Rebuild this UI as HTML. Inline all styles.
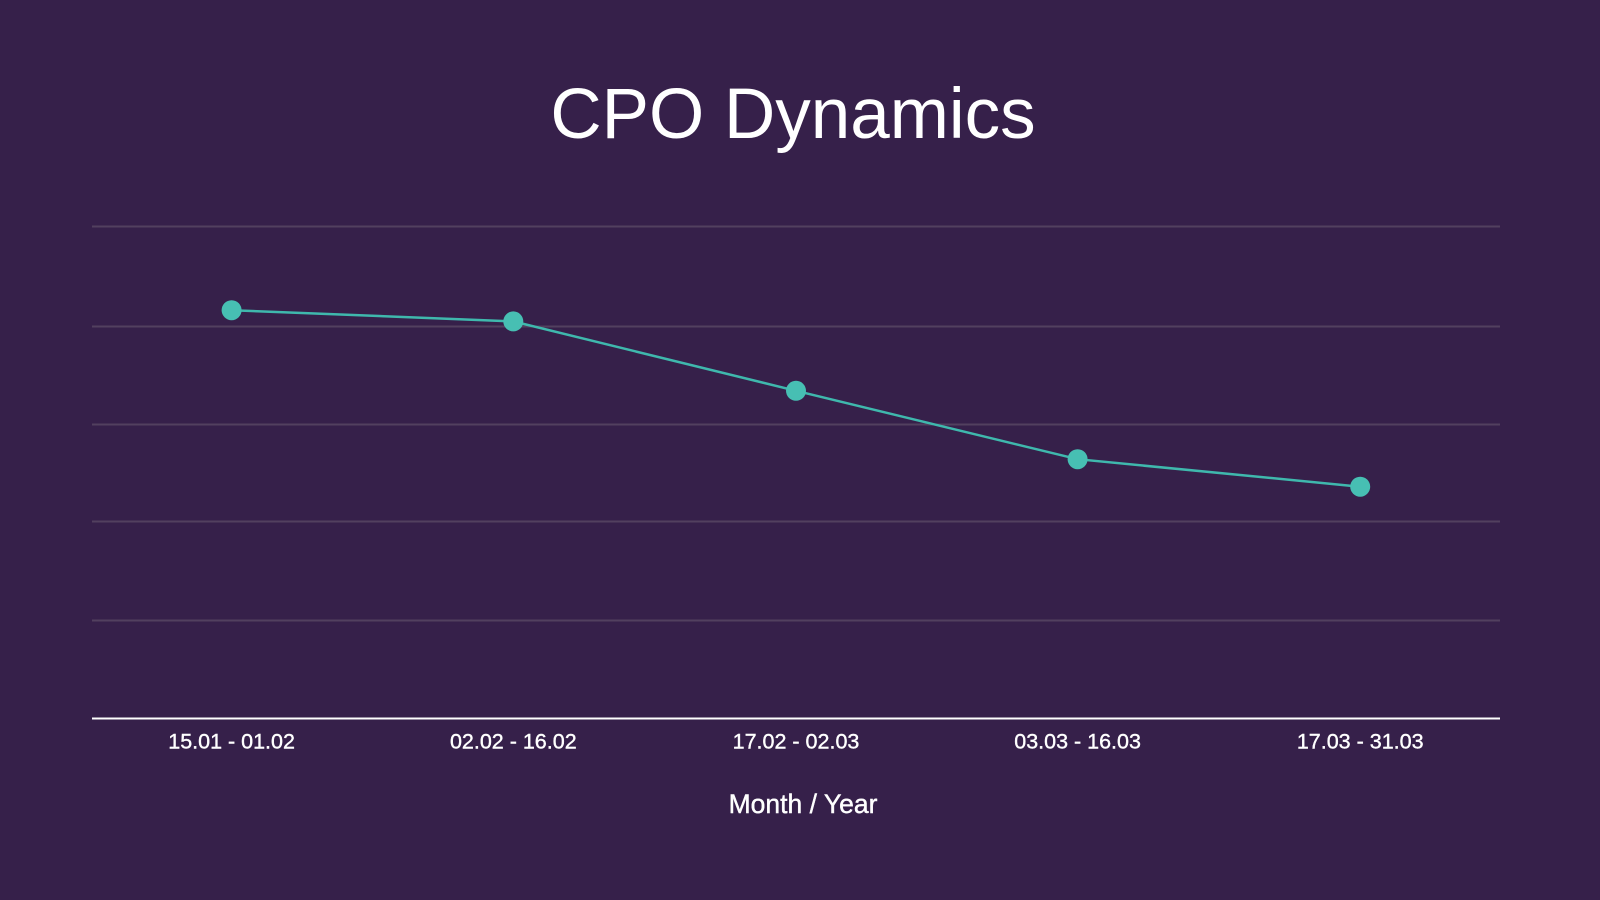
<!DOCTYPE html>
<html><head><meta charset="utf-8"><style>
html,body{margin:0;padding:0;background:#36204a;}
svg{display:block}
</style></head><body>
<svg width="1600" height="900" viewBox="0 0 1600 900" xmlns="http://www.w3.org/2000/svg">
<rect width="1600" height="900" fill="#36204a"/>
<text x="793" y="138" text-anchor="middle" font-family="Liberation Sans, sans-serif" font-size="71" fill="#ffffff">CPO Dynamics</text>
<g stroke="#52405f" stroke-width="2">
<line x1="92" y1="226.5" x2="1500" y2="226.5"/>
<line x1="92" y1="326.5" x2="1500" y2="326.5"/>
<line x1="92" y1="424.5" x2="1500" y2="424.5"/>
<line x1="92" y1="521.5" x2="1500" y2="521.5"/>
<line x1="92" y1="620.5" x2="1500" y2="620.5"/>
</g>
<line x1="92" y1="718.5" x2="1500" y2="718.5" stroke="#ffffff" stroke-width="2"/>
<polyline points="231.6,310.2 513.3,321.4 796,390.8 1077.6,459.2 1360.2,486.7" fill="none" stroke="#3fb8ad" stroke-width="2.5"/>
<g fill="#47bfb3">
<circle cx="231.6" cy="310.2" r="10"/>
<circle cx="513.3" cy="321.4" r="10"/>
<circle cx="796" cy="390.8" r="10"/>
<circle cx="1077.6" cy="459.2" r="10"/>
<circle cx="1360.2" cy="486.7" r="10"/>
</g>
<g font-family="Liberation Sans, sans-serif" font-size="21.5" fill="#ffffff" text-anchor="middle" stroke="#ffffff" stroke-width="0.4">
<text x="231.6" y="748.5">15.01 - 01.02</text>
<text x="513.3" y="748.5">02.02 - 16.02</text>
<text x="796" y="748.5">17.02 - 02.03</text>
<text x="1077.6" y="748.5">03.03 - 16.03</text>
<text x="1360.2" y="748.5">17.03 - 31.03</text>
<text x="803" y="813" font-size="26.5">Month / Year</text>
</g>
</svg>
</body></html>
